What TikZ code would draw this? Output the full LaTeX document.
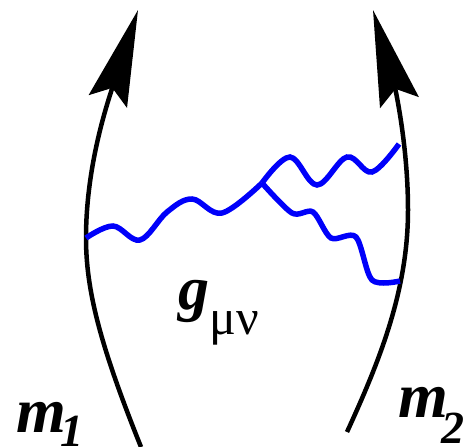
\documentclass[tikz,border=0pt]{standalone}
\usepackage{fontspec}
\setmainfont{Liberation Serif}
\usetikzlibrary{arrows.meta}
\definecolor{gblue}{RGB}{0,0,250}

\begin{document}
\begin{tikzpicture}[x=1pt, y=-1pt,
  world/.style={line width=4.5pt, -{Stealth[length=96pt, width=40pt, inset=14pt]}},
  grav/.style={gblue, line width=5.5pt},
  lbl/.style={anchor=base west, inner sep=0pt, font=\bfseries\itshape\fontsize{64}{64}\selectfont}]
\useasboundingbox (0,0) rectangle (466,447);
% worldlines of the two masses
\coordinate (s1) at (141,447); \coordinate (e1) at (86,238); \coordinate (t1) at (138,10);
\coordinate (s2) at (347,432); \coordinate (r2) at (408,210); \coordinate (t2) at (373,10);
\draw[world] (s1) .. controls (100,345) and (86,290) .. (e1) .. controls (86,170) and (105,110) .. (t1);
\draw[world] (s2) .. controls (380,360) and (408,290) .. (r2) .. controls (408,140) and (393,80) .. (t2);
% graviton exchange
\coordinate (v) at (262,183); \coordinate (u2) at (399,144); \coordinate (w2) at (400,281);
\draw[grav] plot[smooth, tension=0.6] coordinates {(e1) (113,226) (140,240) (167,212) (192,199) (222,213) (v)};
\draw[grav] plot[smooth, tension=0.6] coordinates {(v) (290,157) (317,185) (347,157) (372,172) (u2)};
\draw[grav] plot[smooth, tension=0.5] coordinates {(v) (292,213) (313,212) (331,238) (356,237) (372,280) (w2)};
% labels
\node[lbl] (m1) at (16,432) {m\kern-5pt\raisebox{-14pt}{\fontsize{46}{46}\selectfont 1}};
\node[lbl] (m2) at (398,417) {m\kern-6pt\raisebox{-26pt}{\fontsize{46}{46}\selectfont 2}};
\node[lbl, font=\bfseries\itshape\fontsize{62}{62}\selectfont] (g) at (178,309) {g\raisebox{-25pt}{\normalfont\fontsize{50}{50}\selectfont μν}};
\end{tikzpicture}
\end{document}
